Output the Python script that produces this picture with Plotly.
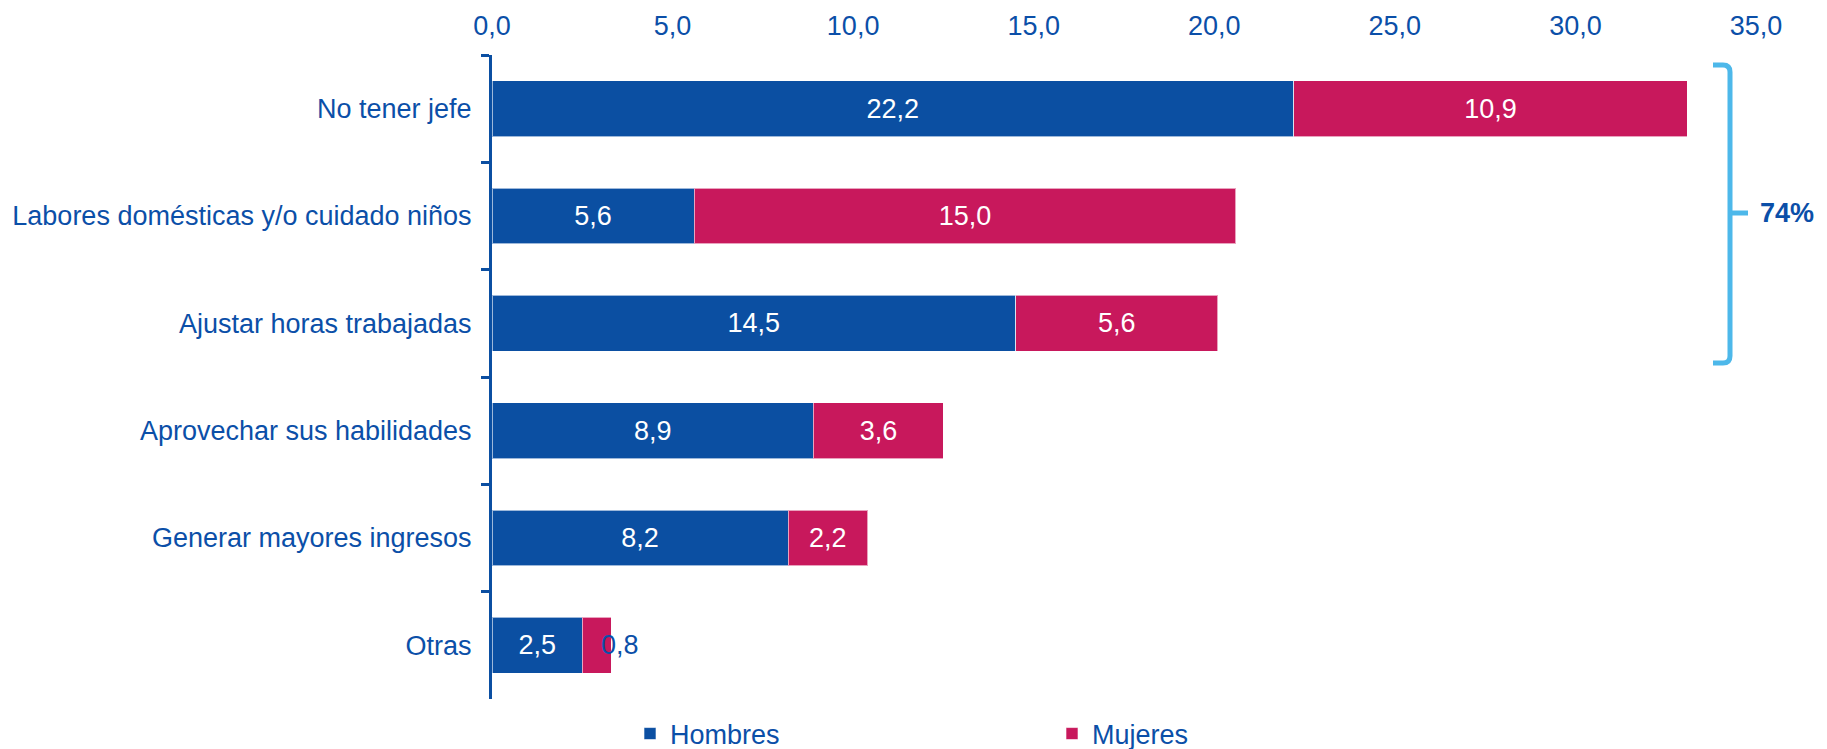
import plotly.graph_objects as go

categories = ["No tener jefe", "Labores domésticas y/o cuidado niños", "Ajustar horas trabajadas",
              "Aprovechar sus habilidades", "Generar mayores ingresos", "Otras"]
hombres = [22.2, 5.6, 14.5, 8.9, 8.2, 2.5]
mujeres = [10.9, 15.0, 5.6, 3.6, 2.2, 0.8]
tick_vals = [0, 5, 10, 15, 20, 25, 30, 35]
bracket_label = "74%"

BLUE = "#0B4FA2"
MAG = "#C8185C"
TXT = "#0B4FA8"
LIGHT = "#4DB8EA"
FONT = "Liberation Sans, Arial, sans-serif"
FS = 27

OFF = 8  # default page body margin
W, H = 1827 - OFF, 749 - OFF
ML, MR, MT, MB = 492 - OFF, 71, 55 - OFF, 50
PW = W - ML - MR
PH = H - MT - MB

fig = go.Figure()
fig.add_trace(go.Bar(
    y=categories, x=hombres, orientation="h", name="Hombres",
    marker=dict(color=BLUE, line=dict(color="rgba(255,255,255,0.6)", width=1)),
    texttemplate="%{x:.1f}", textposition="inside", insidetextanchor="middle",
    insidetextfont=dict(color="white", size=FS, family=FONT),
    legend="legend", showlegend=True, hoverinfo="skip"))
mtext = ["%.1f" % v for v in mujeres]
mtext = [t.replace(".", ",") for t in mtext]
mtext_show = mtext[:-1] + [""]
fig.add_trace(go.Bar(
    y=categories, x=mujeres, orientation="h", name="Mujeres",
    marker=dict(color=MAG, line=dict(color="rgba(255,255,255,0.6)", width=1)),
    text=mtext_show, textposition="inside", insidetextanchor="middle",
    insidetextfont=dict(color="white", size=FS, family=FONT),
    legend="legend2", showlegend=True, hoverinfo="skip"))

# small-segment label for "Otras" (overflows the bar, blue text)
fig.add_annotation(x=hombres[-1] + mujeres[-1], y=categories[-1], xref="x", yref="y",
                   text=mtext[-1], showarrow=False, xanchor="left", xshift=-12,
                   font=dict(color=TXT, size=FS, family=FONT))

def px_x(p):
    return (p - OFF - ML) / PW

def px_y(p):
    return 1 - (p - OFF - MT) / PH

# bracket
xl, xv, xr = px_x(1713), px_x(1730), px_x(1748)
yt, ym, yb = px_y(65), px_y(213), px_y(363)
rx, ry = 7 / PW, 7 / PH
path = (f"M{xl},{yt} L{xv - rx},{yt} Q{xv},{yt} {xv},{yt - ry} "
        f"L{xv},{yb + ry} Q{xv},{yb} {xv - rx},{yb} L{xl},{yb}")
fig.add_shape(type="path", path=path, xref="paper", yref="paper",
              line=dict(color=LIGHT, width=5))
fig.add_shape(type="line", x0=xv, x1=xr, y0=ym, y1=ym, xref="paper", yref="paper",
              line=dict(color=LIGHT, width=5))
fig.add_annotation(x=px_x(1758), y=ym, xref="paper", yref="paper", text="<b>%s</b>" % bracket_label,
                   showarrow=False, xanchor="left", yanchor="middle",
                   font=dict(color=TXT, size=FS, family=FONT))

fig.update_layout(
    width=W, height=H,
    margin=dict(l=ML, r=MR, t=MT, b=MB, autoexpand=False),
    barmode="stack", bargap=0.48,
    plot_bgcolor="white", paper_bgcolor="white",
    separators=",.",
    showlegend=True,
    font=dict(family=FONT, size=FS, color=TXT),
    uniformtext=dict(minsize=FS, mode="show"),
    xaxis=dict(side="top", range=[0, 35], tickvals=tick_vals, tickformat=".1f",
               showgrid=False, zeroline=False, showline=False, ticks="",
               tickfont=dict(size=FS, color=TXT, family=FONT), ticklabelstandoff=14),
    yaxis=dict(categoryorder="array", categoryarray=categories, autorange="reversed",
               showgrid=False, zeroline=False, showline=True, linecolor=BLUE, linewidth=3,
               ticks="outside", ticklen=8, tickwidth=2.5, tickcolor=BLUE, tickson="boundaries",
               tickfont=dict(size=FS, color=TXT, family=FONT), ticklabelstandoff=12),
    legend=dict(orientation="h", x=px_x(630), y=px_y(734), xanchor="left", yanchor="middle",
                font=dict(size=FS, color=TXT, family=FONT), bgcolor="rgba(0,0,0,0)"),
    legend2=dict(orientation="h", x=px_x(1052), y=px_y(734), xanchor="left", yanchor="middle",
                 font=dict(size=FS, color=TXT, family=FONT), bgcolor="rgba(0,0,0,0)"),
)

fig.write_html("out.html")
